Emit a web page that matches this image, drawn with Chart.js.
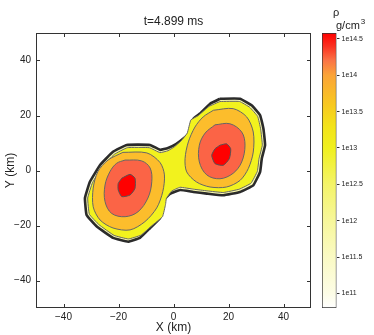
<!DOCTYPE html>
<html>
<head>
<meta charset="utf-8">
<script src="https://cdn.jsdelivr.net/npm/chart.js@4.4.1/dist/chart.umd.min.js"></script>
<style>
  html, body { margin: 0; padding: 0; background: #fff; }
  #wrap { position: relative; width: 374px; height: 335px; }
  #main { position: absolute; left: 0; top: 0; }
  #bar { position: absolute; left: 310px; top: 0; }
</style>
</head>
<body>
<div id="wrap">
  <canvas id="main" width="374" height="335"></canvas>
  <canvas id="bar" width="64" height="335"></canvas>
</div>
<script>
// contour outlines in km
const outerEdge = [
  [16.9, 26.1], [24.2, 26.1], [28.4, 23.7], [31.5, 20.1], [32.7, 15.2], [33.3, 9.2],
  [32.1, 4.3], [31.5, -0.5], [29.0, -5.4], [24.2, -7.8], [18.1, -9.0], [12.1, -8.4],
  [7.2, -7.8], [2.4, -7.1], [-1.3, -8.5], [-3.5, -10.7], [-3.8, -12.5], [-4.9, -17.3],
  [-8.5, -20.9], [-12.2, -24.5], [-16.5, -25.9], [-22.0, -24.5], [-27.9, -20.4],
  [-31.6, -16.2], [-32.2, -10.0], [-30.4, -4.1], [-26.7, 2.0], [-22.0, 6.8],
  [-17.0, 9.3], [-8.5, 9.3], [-4.9, 7.5], [-2.0, 8.2], [0.9, 9.6], [3.6, 11.6],
  [6.0, 14.0], [7.2, 18.8], [9.6, 20.7], [13.3, 24.3],
];
const yellowEdge = [
  [16.9, 25.1], [24.0, 25.1], [27.7, 23.0], [30.6, 19.7], [31.7, 15.1], [32.3, 9.2],
  [31.1, 4.3], [30.5, -0.3], [28.2, -4.6], [23.9, -6.8], [18.1, -8.0], [12.2, -7.4],
  [7.3, -6.8], [2.4, -6.1], [-0.7, -7.5], [-2.6, -10.2], [-2.9, -12.4], [-4.0, -16.8],
  [-7.8, -20.0], [-11.8, -23.5], [-16.4, -24.9], [-21.6, -23.6], [-27.1, -19.7],
  [-30.6, -15.9], [-31.2, -10.0], [-29.5, -4.5], [-25.9, 1.3], [-21.5, 5.9],
  [-16.8, 8.3], [-8.8, 8.3], [-4.9, 6.5], [-2.0, 7.2], [0.3, 8.6], [2.8, 10.8],
  [5.0, 13.6], [6.3, 18.4], [8.9, 19.9], [12.9, 23.3],
];
const leftOrange = [
  [-18.4, 6.6], [-9.7, 6.4], [-4.9, 2.9], [-3.3, -1.6], [-3.9, -7.7], [-6.1, -13.6],
  [-10.4, -18.6], [-15.8, -21.6], [-22.0, -20.9], [-26.7, -18.0], [-29.2, -13.2],
  [-29.2, -6.4], [-27.5, -0.4], [-23.8, 3.8],
];
const leftHot = [
  [-17.6, 3.8], [-11.6, 3.5], [-8.5, 0.9], [-7.9, -4.1], [-9.3, -10.0], [-12.9, -15.0],
  [-17.6, -16.8], [-22.5, -15.6], [-24.9, -11.3], [-24.9, -5.3], [-23.1, -0.4], [-20.7, 2.6],
];
const leftCore = [
  [-18.8, -2.8], [-15.8, -1.4], [-14.0, -2.8], [-14.0, -6.5], [-15.8, -8.9],
  [-18.8, -9.5], [-20.1, -7.1], [-20.1, -4.7],
];
const rightOrange = [
  [14.5, 21.9], [21.7, 22.5], [26.6, 19.5], [29.0, 14.0], [29.0, 6.7], [27.2, 0.7],
  [24.2, -3.6], [19.3, -6.0], [13.3, -6.0], [8.4, -4.2], [4.8, -0.5], [4.2, 4.3],
  [5.4, 10.4], [7.8, 15.8], [10.8, 19.5],
];
const rightHot = [
  [15.1, 16.6], [20.5, 17.0], [24.8, 14.0], [26.0, 9.2], [24.8, 3.1], [21.7, -1.0],
  [16.9, -3.0], [12.1, -1.6], [9.4, 3.1], [9.4, 9.2], [11.5, 13.6],
];
const rightCore = [
  [16.9, 9.2], [19.3, 9.7], [20.8, 7.9], [20.3, 4.3], [18.1, 1.9], [15.1, 2.5],
  [13.9, 5.5], [15.1, 7.9],
];

const axisTicks = [-40, -20, 0, 20, 40];
const barTicks = [11, 11.5, 12, 12.5, 13, 13.5, 14, 14.5];
const barRange = [10.8, 14.58];
const barStops = [10.8, 11.0, 11.5, 12.0, 12.5, 13.0, 13.3, 13.6, 14.0, 14.2, 14.4, 14.58];
const barColors = ['#ffffff', '#fdfde6', '#fafac4', '#f7f79a', '#f4f468', '#f0f01e',
  '#f3e31a', '#f8c820', '#fba438', '#fa7446', '#fb3020', '#ff0000'];

const FONT = '"Liberation Sans", Arial, sans-serif';
const INK = '#222';

const minusLabel = v => (v < 0 ? '\u2212' + Math.abs(v) : String(v));

function shape(label, pts, fill, line, width, order, tension) {
  const data = pts.map(([x, y]) => ({ x, y }));
  data.push({ x: pts[0][0], y: pts[0][1] });
  return {
    label, data, order, tension,
    showLine: true, fill: 'shape',
    backgroundColor: fill, borderColor: line, borderWidth: width,
    borderJoinStyle: 'round', pointRadius: 0, pointHoverRadius: 0,
  };
}

const frame = {
  id: 'frame',
  afterDraw(chart) {
    const { ctx, chartArea: a, scales: { x, y } } = chart;
    ctx.save();
    ctx.strokeStyle = '#333';
    ctx.lineWidth = 1;
    ctx.strokeRect(a.left + 0.5, a.top + 0.5, a.right - a.left - 1, a.bottom - a.top - 1);
    ctx.beginPath();
    axisTicks.forEach(v => {
      const px = Math.round(x.getPixelForValue(v)) + 0.5;
      ctx.moveTo(px, a.bottom); ctx.lineTo(px, a.bottom - 4);
      ctx.moveTo(px, a.top); ctx.lineTo(px, a.top + 4);
      const py = Math.round(y.getPixelForValue(v)) + 0.5;
      ctx.moveTo(a.left, py); ctx.lineTo(a.left + 4, py);
      ctx.moveTo(a.right, py); ctx.lineTo(a.right - 4, py);
    });
    ctx.stroke();
    ctx.fillStyle = INK;
    ctx.font = '12px ' + FONT;
    ctx.textAlign = 'center';
    ctx.textBaseline = 'middle';
    ctx.fillText('t=4.899 ms', (a.left + a.right) / 2, 22);
    ctx.restore();
  },
};

new Chart(document.getElementById('main'), {
  type: 'scatter',
  data: {
    datasets: [
      shape('outer', outerEdge, '#f9f9b0', '#2b2b2b', 2.6, 5, 0.1),
      shape('yellow', yellowEdge, '#f2f21e', '#666', 1, 4, 0.1),
      shape('orange L', leftOrange, '#fcbd2c', '#666', 1, 3, 0.3),
      shape('orange R', rightOrange, '#fcbd2c', '#666', 1, 3, 0.3),
      shape('hot L', leftHot, '#fb6446', '#666', 1, 2, 0.35),
      shape('hot R', rightHot, '#fb6446', '#666', 1, 2, 0.35),
      shape('core L', leftCore, '#ff0000', '#555', 1, 1, 0.2),
      shape('core R', rightCore, '#ff0000', '#555', 1, 1, 0.2),
    ],
  },
  options: {
    responsive: false,
    animation: false,
    layout: { padding: { left: 3, right: 63, top: 33, bottom: 0 } },
    plugins: { legend: { display: false }, tooltip: { enabled: false } },
    scales: {
      x: {
        type: 'linear', min: -50, max: 50,
        afterBuildTicks: s => { s.ticks = axisTicks.map(value => ({ value })); },
        afterFit: s => { s.height = 27; },
        grid: { display: false, drawTicks: false },
        border: { display: false },
        ticks: { callback: minusLabel, color: INK, font: { size: 10, family: FONT }, padding: 3, maxRotation: 0 },
        title: { display: true, text: 'X (km)', color: INK, font: { size: 12, family: FONT }, padding: 0 },
      },
      y: {
        type: 'linear', min: -50, max: 50,
        afterBuildTicks: s => { s.ticks = axisTicks.map(value => ({ value })); },
        afterFit: s => { s.width = 33; },
        grid: { display: false, drawTicks: false },
        border: { display: false },
        ticks: { callback: minusLabel, color: INK, font: { size: 10, family: FONT }, padding: 5 },
        title: { display: true, text: 'Y (km)', color: INK, font: { size: 12, family: FONT }, padding: 0 },
      },
    },
  },
  plugins: [frame],
});

function barGradient(chart) {
  const { ctx, chartArea, scales } = chart;
  if (!chartArea) return barColors[5];
  const y = scales.y;
  const lo = barRange[0], hi = barRange[1];
  const g = ctx.createLinearGradient(0, y.getPixelForValue(lo), 0, y.getPixelForValue(hi));
  barStops.forEach((lv, i) => g.addColorStop((lv - lo) / (hi - lo), barColors[i]));
  return g;
}

const unitLabel = {
  id: 'unitLabel',
  afterDraw(chart) {
    const { ctx } = chart;
    ctx.save();
    ctx.fillStyle = INK;
    ctx.textBaseline = 'alphabetic';
    ctx.textAlign = 'left';
    ctx.font = '11px ' + FONT;
    ctx.fillText('\u03c1', 23, 16);
    ctx.fillText('g/cm', 26, 29);
    const w = ctx.measureText('g/cm').width;
    ctx.font = '8px ' + FONT;
    ctx.fillText('3', 26 + w + 1, 24);
    ctx.restore();
  },
};

new Chart(document.getElementById('bar'), {
  type: 'bar',
  data: {
    labels: [''],
    datasets: [{
      data: [barRange],
      backgroundColor: c => barGradient(c.chart),
      borderColor: '#333',
      borderWidth: 1,
      borderSkipped: false,
      barPercentage: 1,
      categoryPercentage: 1,
    }],
  },
  options: {
    responsive: false,
    animation: false,
    layout: { padding: { left: 12, right: 0, top: 33, bottom: 27 } },
    plugins: { legend: { display: false }, tooltip: { enabled: false } },
    scales: {
      x: { display: false },
      y: {
        position: 'right',
        min: barRange[0], max: barRange[1],
        afterBuildTicks: s => { s.ticks = barTicks.map(value => ({ value })); },
        afterFit: s => { s.width = 37.5; },
        grid: { drawOnChartArea: false, tickLength: 3, color: '#333' },
        border: { display: false },
        ticks: { callback: v => '1e' + v, color: INK, font: { size: 7, family: FONT }, padding: 2 },
      },
    },
  },
  plugins: [unitLabel],
});
</script>
</body>
</html>
